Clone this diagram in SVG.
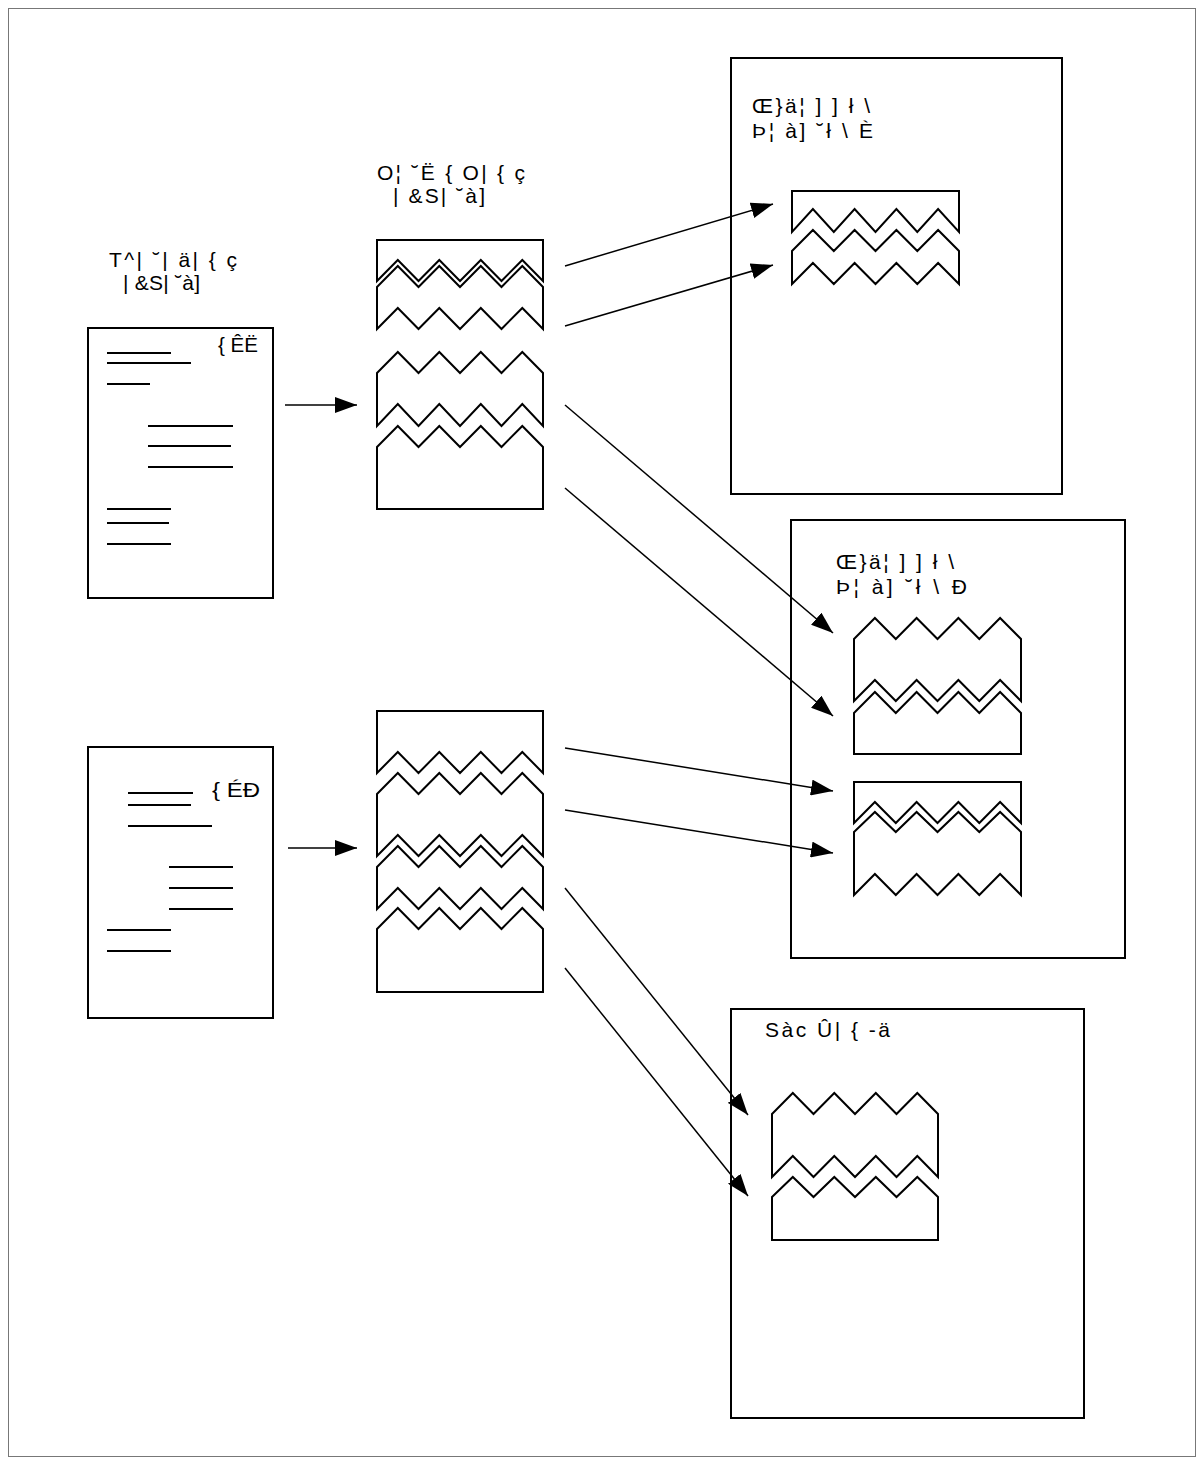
<svg xmlns="http://www.w3.org/2000/svg" width="1204" height="1465" viewBox="0 0 1204 1465">
<style>
.s{fill:#fff;stroke:#000;stroke-width:2;stroke-linejoin:miter}
.ln{stroke:#000;stroke-width:2}
.t{font-family:"Liberation Sans",Arial,sans-serif;font-size:21px;fill:#000}
.c{stroke:#000;stroke-width:1.5;fill:none;marker-end:url(#ah)}
</style>
<defs>
<marker id="ah" markerUnits="userSpaceOnUse" markerWidth="22" markerHeight="16" viewBox="0 0 22 16" refX="22" refY="8" orient="auto">
<path d="M0,0 L22,8 L0,16 Z" fill="#000"/>
</marker>
</defs>
<rect x="0" y="0" width="1204" height="1465" fill="#fff"/>
<rect x="8.5" y="8.5" width="1187" height="1448" fill="none" stroke="#777" stroke-width="1"/>

<g id="doc1">
<rect class="s" x="88" y="328" width="185" height="270"/>
<line class="ln" x1="107" y1="353" x2="171" y2="353"/>
<line class="ln" x1="107" y1="363" x2="191" y2="363"/>
<line class="ln" x1="107" y1="384" x2="150" y2="384"/>
<line class="ln" x1="148" y1="426" x2="233" y2="426"/>
<line class="ln" x1="148" y1="446" x2="231" y2="446"/>
<line class="ln" x1="148" y1="467" x2="233" y2="467"/>
<line class="ln" x1="107" y1="509" x2="171" y2="509"/>
<line class="ln" x1="107" y1="523" x2="169" y2="523"/>
<line class="ln" x1="107" y1="544" x2="171" y2="544"/>
<text class="t" x="218" y="352" textLength="40" lengthAdjust="spacingAndGlyphs">{ ÊË</text>
</g>

<g id="doc2">
<rect class="s" x="88" y="747" width="185" height="271"/>
<line class="ln" x1="128" y1="793" x2="193" y2="793"/>
<line class="ln" x1="128" y1="805" x2="191" y2="805"/>
<line class="ln" x1="128" y1="826" x2="212" y2="826"/>
<line class="ln" x1="169" y1="867" x2="233" y2="867"/>
<line class="ln" x1="169" y1="888" x2="233" y2="888"/>
<line class="ln" x1="169" y1="909" x2="233" y2="909"/>
<line class="ln" x1="107" y1="930" x2="171" y2="930"/>
<line class="ln" x1="107" y1="951" x2="171" y2="951"/>
<text class="t" x="212" y="797" textLength="48" lengthAdjust="spacingAndGlyphs">{ ÉÐ</text>
</g>

<g id="labelA">
<text class="t" x="109" y="267" textLength="128" lengthAdjust="spacing">T^| ˘| ä| { ç</text>
<text class="t" x="123" y="290" textLength="77" lengthAdjust="spacing">| &amp;S| ˘à]</text>
</g>

<g id="labelB">
<text class="t" x="377" y="180" textLength="148" lengthAdjust="spacing">O¦ ˘Ë {  O| { ç</text>
<text class="t" x="393" y="203" textLength="92" lengthAdjust="spacing">| &amp;S| ˘à]</text>
</g>

<g id="stack1">
<path class="s" d="M377,281 V240 H543 V281 L522.3,260 L501.5,281 L480.8,260 L460,281 L439.3,260 L418.5,281 L397.8,260 Z"/>
<path class="s" d="M377,287 L397.8,266 L418.5,287 L439.3,266 L460,287 L480.8,266 L501.5,287 L522.3,266 L543,287 V329 L522.3,308 L501.5,329 L480.8,308 L460,329 L439.3,308 L418.5,329 L397.8,308 L377,329 Z"/>
<path class="s" d="M377,373 L397.8,352 L418.5,373 L439.3,352 L460,373 L480.8,352 L501.5,373 L522.3,352 L543,373 V426 L522.3,404 L501.5,426 L480.8,404 L460,426 L439.3,404 L418.5,426 L397.8,404 L377,426 Z"/>
<path class="s" d="M377,447 L397.8,426 L418.5,447 L439.3,426 L460,447 L480.8,426 L501.5,447 L522.3,426 L543,447 V509 H377 Z"/>
</g>

<g id="stack2">
<path class="s" d="M377,773 V711 H543 V773 L522.3,752 L501.5,773 L480.8,752 L460,773 L439.3,752 L418.5,773 L397.8,752 Z"/>
<path class="s" d="M377,794 L397.8,773 L418.5,794 L439.3,773 L460,794 L480.8,773 L501.5,794 L522.3,773 L543,794 V856 L522.3,835 L501.5,856 L480.8,835 L460,856 L439.3,835 L418.5,856 L397.8,835 L377,856 Z"/>
<path class="s" d="M377,867 L397.8,846 L418.5,867 L439.3,846 L460,867 L480.8,846 L501.5,867 L522.3,846 L543,867 V909 L522.3,888 L501.5,909 L480.8,888 L460,909 L439.3,888 L418.5,909 L397.8,888 L377,909 Z"/>
<path class="s" d="M377,929 L397.8,908 L418.5,929 L439.3,908 L460,929 L480.8,908 L501.5,929 L522.3,908 L543,929 V992 H377 Z"/>
</g>

<g id="box1">
<rect class="s" x="731" y="58" width="331" height="436"/>
<text class="t" x="752" y="113" textLength="118" lengthAdjust="spacing">Œ}ä¦ ] ] ł \</text>
<text class="t" x="752" y="138" textLength="121" lengthAdjust="spacing">Þ¦ à] ˘ł \ È</text>
<path class="s" d="M792,232 V191 H959 V232 L938.1,209 L917.3,232 L896.4,209 L875.5,232 L854.6,209 L833.8,232 L812.9,209 Z"/>
<path class="s" d="M792,251 L812.9,230 L833.8,251 L854.6,230 L875.5,251 L896.4,230 L917.3,251 L938.1,230 L959,251 V284 L938.1,263 L917.3,284 L896.4,263 L875.5,284 L854.6,263 L833.8,284 L812.9,263 L792,284 Z"/>
</g>

<g id="box2">
<rect class="s" x="791" y="520" width="334" height="438"/>
<text class="t" x="836" y="569" textLength="118" lengthAdjust="spacing">Œ}ä¦ ] ] ł \</text>
<text class="t" x="836" y="594" textLength="131" lengthAdjust="spacing">Þ¦ à] ˘ł \ Ð</text>
<path class="s" d="M854,639 L874.9,618 L895.8,639 L916.6,618 L937.5,639 L958.4,618 L979.3,639 L1000.1,618 L1021,639 V701 L1000.1,680 L979.3,701 L958.4,680 L937.5,701 L916.6,680 L895.8,701 L874.9,680 L854,701 Z"/>
<path class="s" d="M854,713 L874.9,692 L895.8,713 L916.6,692 L937.5,713 L958.4,692 L979.3,713 L1000.1,692 L1021,713 V754 H854 Z"/>
<path class="s" d="M854,823 V782 H1021 V823 L1000.1,802 L979.3,823 L958.4,802 L937.5,823 L916.6,802 L895.8,823 L874.9,802 Z"/>
<path class="s" d="M854,832 L874.9,812 L895.8,832 L916.6,812 L937.5,832 L958.4,812 L979.3,832 L1000.1,812 L1021,832 V895 L1000.1,874 L979.3,895 L958.4,874 L937.5,895 L916.6,874 L895.8,895 L874.9,874 L854,895 Z"/>
</g>

<g id="box3">
<rect class="s" x="731" y="1009" width="353" height="409"/>
<text class="t" x="765" y="1037" textLength="125" lengthAdjust="spacing">Sàc  Û| { -ä</text>
<path class="s" d="M772,1114 L792.8,1093 L813.5,1114 L834.3,1093 L855,1114 L875.8,1093 L896.5,1114 L917.3,1093 L938,1114 V1177 L917.3,1156 L896.5,1177 L875.8,1156 L855,1177 L834.3,1156 L813.5,1177 L792.8,1156 L772,1177 Z"/>
<path class="s" d="M772,1197 L792.8,1177 L813.5,1197 L834.3,1177 L855,1197 L875.8,1177 L896.5,1197 L917.3,1177 L938,1197 V1240 H772 Z"/>
</g>

<g id="connectors">
<line class="c" x1="285" y1="405" x2="357" y2="405"/>
<line class="c" x1="288" y1="848" x2="357" y2="848"/>
<line class="c" x1="565" y1="266" x2="773" y2="204"/>
<line class="c" x1="565" y1="326" x2="773" y2="265"/>
<line class="c" x1="565" y1="405" x2="833" y2="633"/>
<line class="c" x1="565" y1="488" x2="833" y2="716"/>
<line class="c" x1="565" y1="748" x2="833" y2="791"/>
<line class="c" x1="565" y1="810" x2="833" y2="853"/>
<line class="c" x1="565" y1="888" x2="748" y2="1115"/>
<line class="c" x1="565" y1="968" x2="748" y2="1196"/>
</g>
</svg>
